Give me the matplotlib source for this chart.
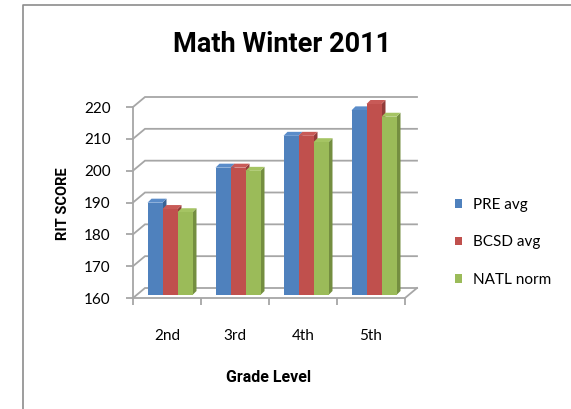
import numpy as np
import matplotlib.pyplot as plt
from matplotlib.patches import Polygon, Patch
from matplotlib.lines import Line2D

plt.rcParams['font.family'] = ['Lato', 'DejaVu Sans']

grades = ['2nd', '3rd', '4th', '5th']
series = ['PRE avg', 'BCSD avg', 'NATL norm']
pre_avg = [189, 200, 210, 218]
bcsd_avg = [187, 200, 210, 220]
natl_norm = [186, 199, 208, 216]
yticks = [160, 170, 180, 190, 200, 210, 220]

front = ['#4F81BD', '#C0504D', '#9BBB59']
top = ['#5A8CC9', '#C85A57', '#A5C463']
side = ['#3A6393', '#933C3A', '#748E40']
grid_c = '#A6A6A6'
bold_font = ['Roboto', 'DejaVu Sans']

fig = plt.figure(figsize=(5.71, 4.09), dpi=100)
W, H = 571, 409
ax = fig.add_axes([133 / W, 1 - 298 / H, 272 / W, 191 / H])
ax.set_xlim(0, len(grades))
ax.set_ylim(yticks[0], yticks[-1])

# pixel -> data conversion for the fake depth
p0 = ax.transData.transform((0, 0))
sx = ax.transData.transform((1, 0))[0] - p0[0]
sy = ax.transData.transform((0, 1))[1] - p0[1]
bx, by = 12 / sx, 10 / sy      # back wall offset
px, py = 3 / sx, 3 / sy        # plane of the bars
dx, dy = 4 / sx, 4 / sy        # bar depth

n = len(grades)
# walls / gridlines
for v in yticks:
    ax.plot([0, bx, n + bx], [v, v + by, v + by], color=grid_c, lw=1.3,
            clip_on=False, zorder=1, solid_joinstyle='miter')
ax.plot([n, n + bx], [yticks[0], yticks[0] + by], color=grid_c, lw=1.3,
        clip_on=False, zorder=1)

# bars
w = 15 / sx
data = [pre_avg, bcsd_avg, natl_norm]
base = yticks[0] + py
for j, vals in enumerate(data):
    x = np.arange(n) + 0.5 - 1.5 * w + j * w + px
    z = 3 + j * 3
    for xi, v in zip(x, vals):
        t = v + py
        ax.add_patch(Polygon([(xi + w, base), (xi + w, t), (xi + w + dx, t + dy),
                              (xi + w + dx, base + dy)], closed=True,
                             fc=side[j], ec='none', clip_on=False, zorder=z))
        ax.add_patch(Polygon([(xi, t), (xi + w, t), (xi + w + dx, t + dy),
                              (xi + dx, t + dy)], closed=True,
                             fc=top[j], ec='none', clip_on=False, zorder=z))
    ax.bar(x, np.array(vals) - yticks[0], width=w, bottom=base, align='edge',
           color=front[j], zorder=z + 1, clip_on=False)

# axes styling
for s in ['top', 'right']:
    ax.spines[s].set_visible(False)
for s in ['left', 'bottom']:
    ax.spines[s].set_color(grid_c)
    ax.spines[s].set_linewidth(1.3)
ax.set_yticks(yticks)
ax.tick_params(axis='y', length=5, width=1.3, color=grid_c, pad=11,
               labelsize=11)
ax.set_xticks(np.arange(n + 1))
ax.set_xticklabels([])
ax.tick_params(axis='x', which='major', length=5, width=1.3, color=grid_c)
ax.set_xticks(np.arange(n) + 0.5, minor=True)
ax.set_xticklabels(grades, minor=True)
ax.tick_params(axis='x', which='minor', length=0, pad=22, labelsize=11)
ax.patch.set_visible(False)

fig.text(282 / W, 1 - 44 / H, 'Math Winter 2011', ha='center', va='center',
         fontsize=19.5, fontweight='bold', family=bold_font)
fig.text(63 / W, 1 - 204 / H, 'RIT SCORE', rotation=90, ha='center',
         va='center', fontsize=10.5, fontweight='bold', family=bold_font)
fig.text(269 / W, 1 - 377 / H, 'Grade Level', ha='center', va='center',
         fontsize=11.5, fontweight='bold', family=bold_font)

handles = [Patch(fc=c, ec='none') for c in front]
fig.legend(handles, series, loc='upper left',
           bbox_to_anchor=(441 / W, 1 - 184 / H), frameon=False,
           fontsize=11, handlelength=0.5, handleheight=0.5,
           handletextpad=0.7, labelspacing=1.55)

# chart border
fig.add_artist(Line2D([23 / W, 23 / W, 1], [0, 1 - 5 / H, 1 - 5 / H],
                      color='#8C8C8C', lw=1.2))

fig.savefig('out.png', dpi=100)
